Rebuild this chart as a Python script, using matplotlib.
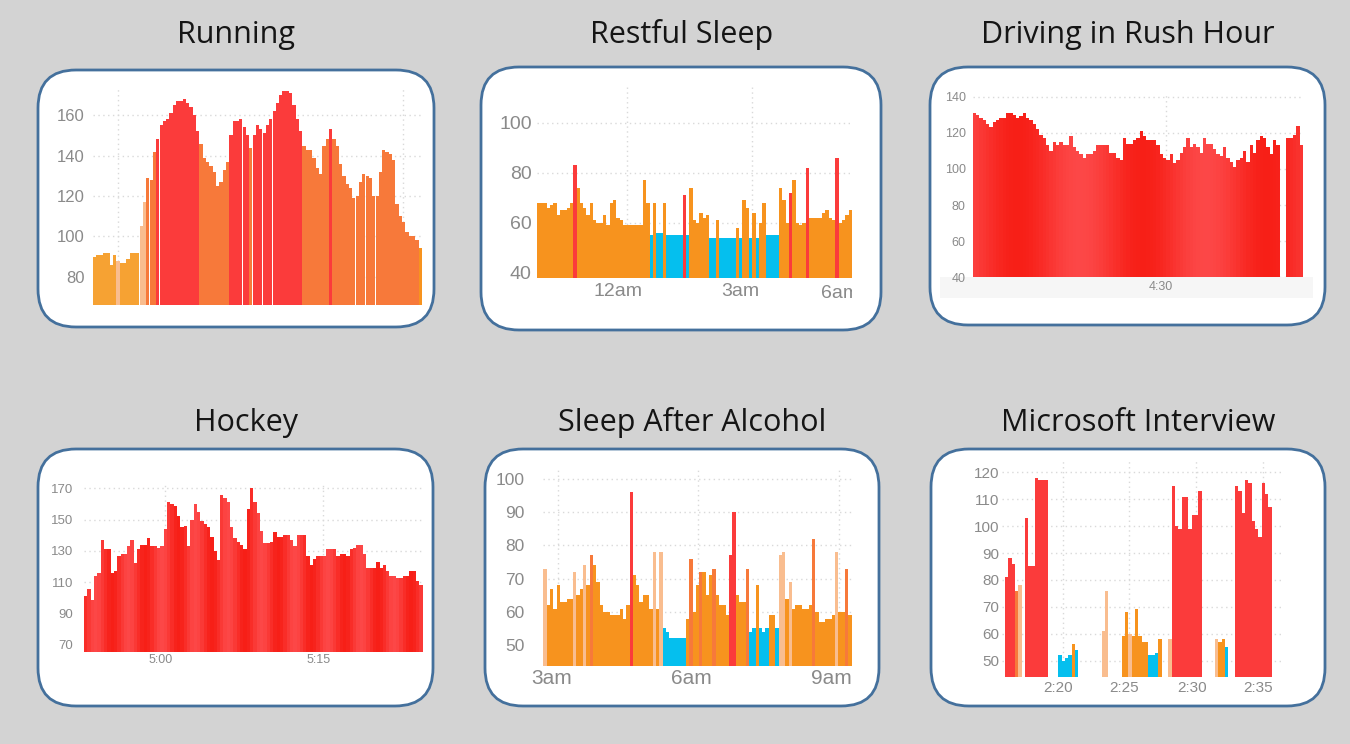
import numpy as np
import matplotlib
matplotlib.use("Agg")
import matplotlib.pyplot as plt
from matplotlib.patches import FancyBboxPatch, Rectangle
from matplotlib.colors import to_rgb
from matplotlib.transforms import Bbox

W, H = 1350, 744
BG = "#d3d3d3"
EDGE = "#44709c"
TICK = "#8a8a8a"
ZONE = {"y": "#f6a233", "o": "#f7931e", "l": "#f9bd8f", "d": "#f7793a",
        "r": "#fb3b3b", "c": "#05bfee"}

# heart rate samples (bpm)
running_hr = [90, 91, 91, 92, 92, 86, 91, 88, 87, 87,
              89, 92, 92, 92, 105, 117, 129, 128, 142, 148,
              155, 157, 158, 161, 165, 167, 167, 168, 166, 164,
              160, 152, 146, 139, 137, 135, 132, 125, 127, 133,
              137, 150, 157, 157, 158, 154, 150, 144, 150, 155,
              153, 151, 155, 158, 162, 166, 170, 172, 172, 171,
              165, 158, 152, 145, 143, 143, 139, 134, 131, 145,
              148, 153, 148, 145, 136, 130, 126, 124, 119, 120,
              127, 131, 130, 129, 120, 120, 132, 143, 142, 141,
              138, 116, 110, 107, 102, 100, 100, 98, 94]
running_zone = ("yyyyyyylyyyyyy" "ll" "ddd" "rrrrrrrrrrrrr" "ddddddddd" "rrrrrr" "d"
                "rrrrrrrrrrrrrrr" "dddddddd" "r" "ddddddddddddddddddddddddddo")

sleep_hr = [68, 68, 68, 66, 67, 68, 63, 65, 65, 66,
            68, 83, 74, 68, 66, 63, 68, 61, 60, 60,
            63, 59, 68, 69, 62, 61, 59, 59, 59, 59,
            59, 59, 77, 68, 55, 68, 56, 56, 68, 55,
            55, 55, 55, 55, 71, 55, 74, 61, 60, 64,
            62, 63, 54, 54, 61, 54, 54, 54, 54, 54,
            58, 54, 69, 66, 54, 64, 54, 60, 68, 55,
            55, 55, 55, 74, 69, 60, 72, 77, 60, 59,
            60, 82, 62, 62, 62, 62, 64, 65, 62, 61,
            86, 60, 61, 63, 65]
sleep_zone = ("oooooooooo" "oroooooooo" "oooooooooo" "oooococcoc" "ccccrcoooo"
              "ooccoccccc" "ocoococooc" "cccooorooo" "oroooooooo" "roooo")

driving_hr = [131, 130, 128, 127, 125, 123, 126, 127, 128, 128,
              131, 131, 130, 128, 129, 131, 128, 127, 125, 122,
              119, 117, 113, 110, 115, 113, 115, 113, 113, 118,
              112, 110, 108, 106, 108, 108, 110, 113, 113, 113,
              113, 109, 109, 106, 105, 117, 114, 114, 116, 117,
              121, 118, 116, 116, 116, 113, 108, 106, 105, 108,
              103, 105, 109, 112, 117, 112, 114, 112, 109, 117,
              114, 114, 111, 108, 107, 112, 106, 104, 101, 105,
              106, 110, 104, 113, 109, 116, 118, 117, 112, 108,
              116, 113, np.nan, np.nan, 117, 117, 119, 124, 113]

hockey_hr = [101, 106, 99, 114, 116, 137, 131, 131, 116, 117,
             127, 128, 128, 133, 137, 122, 131, 134, 134, 138,
             133, 133, 132, 133, 144, 161, 160, 159, 152, 145,
             146, 133, 150, 160, 155, 149, 147, 145, 139, 130,
             124, 166, 164, 161, 145, 138, 136, 134, 131, 157,
             170, 161, 154, 143, 135, 135, 136, 142, 139, 139,
             140, 140, 137, 133, 140, 140, 140, 127, 121, 125,
             127, 127, 127, 131, 131, 131, 127, 128, 128, 127,
             131, 132, 134, 134, 128, 119, 119, 119, 123, 119,
             121, 117, 114, 114, 113, 113, 114, 114, 117, 117,
             111, 108]

alcohol_hr = [73, 62, 67, 61, 68, 63, 63, 64, 64, 72,
              65, 67, 74, 68, 77, 74, 69, 62, 60, 60,
              59, 59, 59, 61, 58, 62, 96, 71, 68, 63,
              65, 65, 61, 78, 61, 78, 55, 54, 52, 52,
              52, 52, 52, 58, 76, 60, 68, 72, 72, 65,
              71, 73, 65, 62, 62, 59, 77, 90, 65, 63,
              63, 73, 54, 55, 68, 55, 54, 55, 59, 59,
              55, 77, 78, 64, 69, 61, 62, 62, 61, 61,
              62, 82, 60, 57, 57, 58, 58, 59, 78, 60,
              60, 73, 59]
alcohol_zone = ("looooooool" "oolodooooo" "oooooorooo" "ooololcccc" "cccodoodoo"
                "odoooorroo" "odccocccoo" "cllolooooo" "odoooooolo" "odo")

nan = np.nan
interview_hr = [81, 88, 86, 76, 78, nan, 103, 85, 85, 118,
                117, 117, 117, nan, nan, nan, 52, 50, 51, 52,
                56, 54, nan, nan, nan, nan, nan, nan, nan, 61,
                76, nan, nan, nan, nan, 59, 68, 60, 59, 69,
                59, 57, 57, 52, 52, 53, 58, nan, nan, 58,
                115, 100, 99, 111, 111, 99, 104, 104, 113, nan,
                nan, nan, nan, 58, 57, 58, 55, nan, nan, 115,
                113, 105, 117, 116, 102, 99, 96, 116, 112, 107]
interview_zone = ("rrrdlrrrrr" "rrrrrrcccc" "ocoooooool" "looooooloo" "ooocccoool"
                  "rrrrrrrrrr" "oooloocoor" "rrrrrrrrrr")

titles = ["Running", "Restful Sleep", "Driving in Rush Hour",
          "Hockey", "Sleep After Alcohol", "Microsoft Interview"]


def red_bands(n, period, phase):
    t = 0.5 + 0.5 * np.cos(2 * np.pi * (np.arange(n) - phase) / period)
    dark, light = np.array(to_rgb("#f71f17")), np.array(to_rgb("#fc4747"))
    return [tuple(light + (dark - light) * v) for v in t]


fig = plt.figure(figsize=(W / 100, H / 100), dpi=100, facecolor=BG)
bg = fig.add_axes([0, 0, 1, 1])
bg.set_xlim(0, W)
bg.set_ylim(H, 0)
bg.axis("off")

boxes = [(38, 70, 434, 327), (481, 67, 881, 330), (930, 67, 1325, 325),
         (38, 449, 433, 706), (485, 449, 879, 706), (931, 449, 1325, 706)]
for x0, y0, x1, y1 in boxes:
    bg.add_patch(FancyBboxPatch((x0, y0), x1 - x0, y1 - y0,
                                boxstyle="round,pad=0,rounding_size=38",
                                facecolor="white", edgecolor=EDGE, linewidth=2))

title_pos = [(236, 43), (682, 43), (1128, 43), (246, 431), (692, 431), (1138, 431)]
for (tx, ty), t in zip(title_pos, titles):
    bg.text(tx, ty, t, ha="center", va="baseline", fontsize=22,
            family=["Open Sans", "DejaVu Sans"], color="#151515")

# light strip under the driving chart
bg.add_patch(Rectangle((940, 277), 373, 21, facecolor="#f6f6f6", edgecolor="none"))


def make_panel(rect, vals, cols, xlim, ylim, yticks, ysize, ypad,
               grid_px=(), labels=(), label_px=(), xsize=10, xpad=3, width=1.0):
    x0, y0, x1, y1 = rect
    ax = fig.add_axes([x0 / W, 1 - y1 / H, (x1 - x0) / W, (y1 - y0) / H])
    ax.patch.set_alpha(0)
    x = np.arange(len(vals))
    ax.bar(x, vals, width=width, color=cols, linewidth=0)
    ax.set_xlim(xlim)
    ax.set_ylim(ylim)

    def px2x(p):
        return xlim[0] + (p - x0) / (x1 - x0) * (xlim[1] - xlim[0])

    ax.set_yticks(yticks)
    ax.set_xticks([px2x(p) for p in grid_px], minor=True)
    ax.set_xticks([px2x(p) for p in label_px])
    ax.set_xticklabels(labels)
    ax.grid(axis="y", which="major", color="#d9d9d9", linestyle=(0, (1, 2.5)), linewidth=1)
    ax.grid(axis="x", which="minor", color="#d9d9d9", linestyle=(0, (1, 2.5)), linewidth=1)
    ax.grid(axis="x", which="major", visible=False)
    ax.set_axisbelow(True)
    for s in ax.spines.values():
        s.set_visible(False)
    ax.tick_params(which="both", length=0)
    ax.tick_params(axis="y", labelsize=ysize, pad=ypad, labelcolor=TICK)
    ax.tick_params(axis="x", labelsize=xsize, pad=xpad, labelcolor=TICK)
    for lab in ax.get_xticklabels() + ax.get_yticklabels():
        lab.set_family(["Liberation Sans", "DejaVu Sans"])
    return ax


n = len(running_hr)
make_panel((93, 87, 422, 305), running_hr, [ZONE[c] for c in running_zone],
           (-0.5, n - 0.5), (66, 174), range(80, 161, 20), 12, 5.8,
           grid_px=(118, 403), width=0.97)

n = len(sleep_hr)
make_panel((536.7, 86.7, 852, 278.3), sleep_hr, [ZONE[c] for c in sleep_zone],
           (-0.5, n - 0.5), (37.7, 114.4), range(40, 101, 20), 14, 3.6,
           grid_px=(626.7, 751.7), labels=("12am", "3am"), label_px=(618, 740.7),
           xsize=14, xpad=3.6)
six = bg.text(840, 294, "6am", ha="center", va="center", fontsize=14, color=TICK,
              family=["Liberation Sans", "DejaVu Sans"], clip_on=True)
six.set_clip_box(Bbox.from_extents(0, 0, 852, H))

n = len(driving_hr)
make_panel((972.7, 93, 1303, 277.3), driving_hr, red_bands(n, 37.5, 13),
           (-0.5, n - 0.5), (40, 142), range(40, 141, 20), 9, 5,
           grid_px=(1165.7,), labels=("4:30",), label_px=(1160.7,),
           xsize=9, xpad=3)

n = len(hockey_hr)
make_panel((84, 485, 422.7, 651.7), hockey_hr, red_bands(n, 10, 8),
           (-0.5, n - 0.5), (65.7, 172.1), range(70, 171, 20), 9.5, 8,
           grid_px=(165, 322.7), labels=("5:00", "5:15"), label_px=(161, 319),
           xsize=9, xpad=2)

n = len(alcohol_hr)
make_panel((543.3, 466.7, 851.7, 666), alcohol_hr, [ZONE[c] for c in alcohol_zone],
           (-0.5, n - 0.5), (43.7, 103.7), range(50, 101, 10), 12.5, 13.7,
           grid_px=(557.7, 697.7, 839.3), labels=("3am", "6am", "9am"),
           label_px=(551.7, 691.7, 831.7), xsize=15, xpad=2)

make_panel((1001.7, 460, 1283, 676.7), interview_hr, [ZONE[c] for c in interview_zone],
           (-1.5, 82.9), (44, 124.6), range(50, 121, 10), 11, 1.5,
           grid_px=(1062.7, 1129.3, 1196, 1262.7), labels=("2:20", "2:25", "2:30", "2:35"),
           label_px=(1057.7, 1124.3, 1191.7, 1258.3), xsize=11, xpad=3)

fig.savefig("out.png", dpi=100, facecolor=BG)
